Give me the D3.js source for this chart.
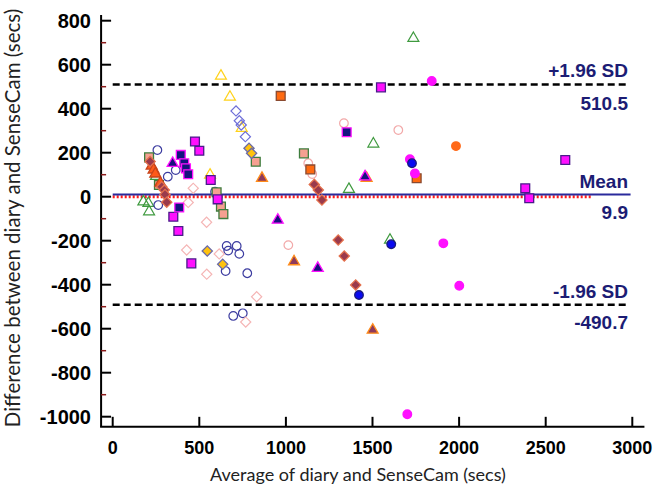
<!DOCTYPE html>
<html><head><meta charset="utf-8">
<script src="https://cdn.jsdelivr.net/npm/d3@7"></script>
<style>
html,body{margin:0;padding:0;background:#fff;}
svg{display:block;}
</style></head>
<body>
<svg id="chart" width="655" height="502"></svg>
<script>
// ---------- data (x = average secs, y = difference secs) ----------
const xTicks = [0, 500, 1000, 1500, 2000, 2500, 3000];
const yTicks = [800, 600, 400, 200, 0, -200, -400, -600, -800, -1000];
const yMinorTicks = [700, 500, 300, 100, -100, -300, -500, -700, -900];

const meanDiff = 9.9;
const upperLoA = 510.5;
const lowerLoA = -490.7;

const openGreenTriangle = [[177,-23],[206,-30],[210,-68],[250,93],[1364,34],[1505,240],[1736,720],[1601,-197]];
const openYellowTriangle = [[625,549],[677,453],[745,311],[562,99]];
const openNavyCircle = [[258,212],[364,121],[318,91],[263,-38],[591,23],[658,-224],[667,-245],[716,-224],[731,-260],[652,-338],[777,-348],[696,-542],[751,-530]];
const openPinkCircle = [[1129,152],[1152,103],[1335,334],[1014,-220],[1649,303]];
const openBlueDiamond = [[712,390],[731,345],[742,326],[766,273]];
const openPinkDiamond = [[465,38],[436,-26],[542,-116],[427,-242],[615,-260],[543,-352],[831,-455],[768,-570]];
const magentaSquare = [[475,251],[500,209],[566,76],[606,-12],[350,-91],[379,-156],[454,-303],[1549,497],[2613,167],[2382,38],[2405,-7]];
const navySquare = [[393,190],[413,152],[423,129],[436,102],[384,-49],[1351,293]];
const salmonSquare = [[210,179],[826,159],[1104,197],[600,20],[625,-45],[639,-79],[267,53]];
const orangeSquare = [[970,458],[1141,124],[1755,84]];
const maroonTriangle = [[862,84],[1047,-295],[1466,84],[1501,-606]];
const navyTriangle = [[346,152],[953,-106],[1184,-325],[1457,91]];
const orangeTriangle = [[225,140],[236,122],[246,104],[275,62]];
const maroonDiamond = [[216,160],[283,45],[298,30],[302,10],[312,-25],[1164,56],[1187,30],[1208,-15],[1302,-197],[1337,-270],[1403,-401]];
const goldDiamond = [[787,220],[802,197],[546,-247],[635,-307]];
const magentaCircle = [[1842,526],[1716,170],[1745,106],[1909,-212],[2001,-405],[1701,-989]];
const blueCircle = [[1728,152],[1608,-216],[1422,-447]];
const orangeCircle = [[1982,230]];

// ---------- styles ----------
const series = [
  {data: openGreenTriangle, shape: "triangle", fill: "none", stroke: "#3f9a3f"},
  {data: openYellowTriangle, shape: "triangle", fill: "none", stroke: "#ffd21a"},
  {data: openNavyCircle, shape: "circle", fill: "none", stroke: "#3c3ca0"},
  {data: openPinkCircle, shape: "circle", fill: "none", stroke: "#f2a8a8"},
  {data: openBlueDiamond, shape: "diamond", fill: "none", stroke: "#6e6ed8"},
  {data: openPinkDiamond, shape: "diamond", fill: "none", stroke: "#f5b5b5"},
  {data: salmonSquare, shape: "square", fill: "#f5a091", stroke: "#3e7d3e"},
  {data: orangeSquare, shape: "square", fill: "#ff6a10", stroke: "#8a4a30"},
  {data: maroonTriangle, shape: "triangle", fill: "#8e3a5c", stroke: "#ff8c1a"},
  {data: orangeTriangle, shape: "triangle", fill: "#ff5a1a", stroke: "#c8441a"},
  {data: maroonDiamond, shape: "diamond", fill: "#9a3a4c", stroke: "#e4704c"},
  {data: goldDiamond, shape: "diamond", fill: "#ffc20e", stroke: "#6a6aa8"},
  {data: magentaSquare, shape: "square", fill: "#ff10ff", stroke: "#4a1a8a"},
  {data: navySquare, shape: "square", fill: "#14147e", stroke: "#ff10ff"},
  {data: navyTriangle, shape: "triangle", fill: "#18107e", stroke: "#ff10ff"},
  {data: magentaCircle, shape: "circle", fill: "#ff10ff", stroke: "#ff10ff"},
  {data: blueCircle, shape: "circle", fill: "#0a0af0", stroke: "#1a1a80"},
  {data: orangeCircle, shape: "circle", fill: "#ff6a1a", stroke: "#ff6a1a"}
];

const svg = d3.select("#chart");
const x = d3.scaleLinear().domain([0, 3000]).range([112.7, 632.3]);
const y = d3.scaleLinear().domain([-1000, 800]).range([416.7, 20.7]);
const xLo = -67, xHi = 3070, yLo = -1046, yHi = 826;

const navy = "#1c1c74";
const tickFont = "'Liberation Sans', Arial, sans-serif";
const titleFont = "Lato, 'Open Sans', sans-serif";

// axis lines
svg.append("line").attr("x1", x(xLo)).attr("x2", x(xLo)).attr("y1", y(yHi)).attr("y2", y(yLo))
  .attr("stroke", "#000").attr("stroke-width", 2);
svg.append("line").attr("x1", x(xLo) - 1).attr("x2", x(xHi)).attr("y1", y(yLo)).attr("y2", y(yLo))
  .attr("stroke", "#000").attr("stroke-width", 2);

// y ticks (inward)
svg.selectAll(".ymaj").data(yTicks).join("line")
  .attr("x1", x(xLo)).attr("x2", x(xLo) + 10).attr("y1", d => y(d)).attr("y2", d => y(d))
  .attr("stroke", "#000").attr("stroke-width", 2);
svg.selectAll(".ymin").data(yMinorTicks).join("line")
  .attr("x1", x(xLo)).attr("x2", x(xLo) + 5).attr("y1", d => y(d)).attr("y2", d => y(d))
  .attr("stroke", "#8b1a1a").attr("stroke-width", 1.5);
svg.selectAll(".ylab").data(yTicks).join("text")
  .attr("x", 91).attr("y", d => y(d) + 7).attr("text-anchor", "end")
  .attr("font-family", tickFont).attr("font-weight", "bold").attr("font-size", 20)
  .text(d => d);

// x ticks (inward)
svg.selectAll(".xmaj").data(xTicks).join("line")
  .attr("x1", d => x(d)).attr("x2", d => x(d)).attr("y1", y(yLo)).attr("y2", y(yLo) - 10)
  .attr("stroke", "#000").attr("stroke-width", 2);
svg.selectAll(".xlab").data(xTicks).join("text")
  .attr("x", d => x(d)).attr("y", 454).attr("text-anchor", "middle")
  .attr("font-family", tickFont).attr("font-weight", "bold").attr("font-size", 18)
  .text(d => d);

// titles
svg.append("text").attr("x", 358).attr("y", 481).attr("text-anchor", "middle")
  .attr("font-family", titleFont).attr("font-size", 18).attr("fill", "#222")
  .text("Average of diary and SenseCam (secs)");
svg.append("text").attr("transform", "translate(20,218) rotate(-90)").attr("text-anchor", "middle")
  .attr("font-family", titleFont).attr("font-size", 20.5).attr("fill", "#222")
  .text("Difference between diary and SenseCam (secs)");

// reference lines
svg.append("line").attr("x1", x(0)).attr("x2", x(2765)).attr("y1", y(0)).attr("y2", y(0))
  .attr("stroke", "#ff1a1a").attr("stroke-width", 3).attr("stroke-dasharray", "2,2");
svg.append("line").attr("x1", x(0)).attr("x2", x(2990)).attr("y1", y(meanDiff)).attr("y2", y(meanDiff))
  .attr("stroke", "#2a2a9c").attr("stroke-width", 2);
[upperLoA, lowerLoA].forEach(v => {
  svg.append("line").attr("x1", x(0)).attr("x2", x(2980)).attr("y1", y(v)).attr("y2", y(v))
    .attr("stroke", "#000").attr("stroke-width", 2.5).attr("stroke-dasharray", "7,4");
});

// labels for lines
const lab = (txt, yy) => svg.append("text").attr("x", 628).attr("y", yy).attr("text-anchor", "end")
  .attr("font-family", tickFont).attr("font-weight", "bold").attr("font-size", 19).attr("fill", navy).text(txt);
lab("+1.96 SD", y(upperLoA) - 7);
lab(upperLoA.toFixed(1), y(upperLoA) + 26);
lab("Mean", y(meanDiff) - 7);
lab(meanDiff.toFixed(1), y(meanDiff) + 24);
lab("-1.96 SD", y(lowerLoA) - 7);
lab(lowerLoA.toFixed(1), y(lowerLoA) + 24);

// points
const symArea = {circle: 58, square: 78, triangle: 52, diamond: 52};
const symType = {circle: d3.symbolCircle, square: d3.symbolSquare, triangle: d3.symbolTriangle, diamond: d3.symbolSquare};
series.forEach(s => {
  const gen = d3.symbol().type(symType[s.shape]).size(symArea[s.shape]);
  svg.append("g").selectAll("path").data(s.data).join("path")
    .attr("d", gen)
    .attr("transform", d => `translate(${x(d[0])},${y(d[1])})` + (s.shape === "diamond" ? " rotate(45)" : ""))
    .attr("fill", s.fill).attr("stroke", s.stroke).attr("stroke-width", s.fill === "none" ? 1.2 : 1.3);
});
</script>
</body></html>
